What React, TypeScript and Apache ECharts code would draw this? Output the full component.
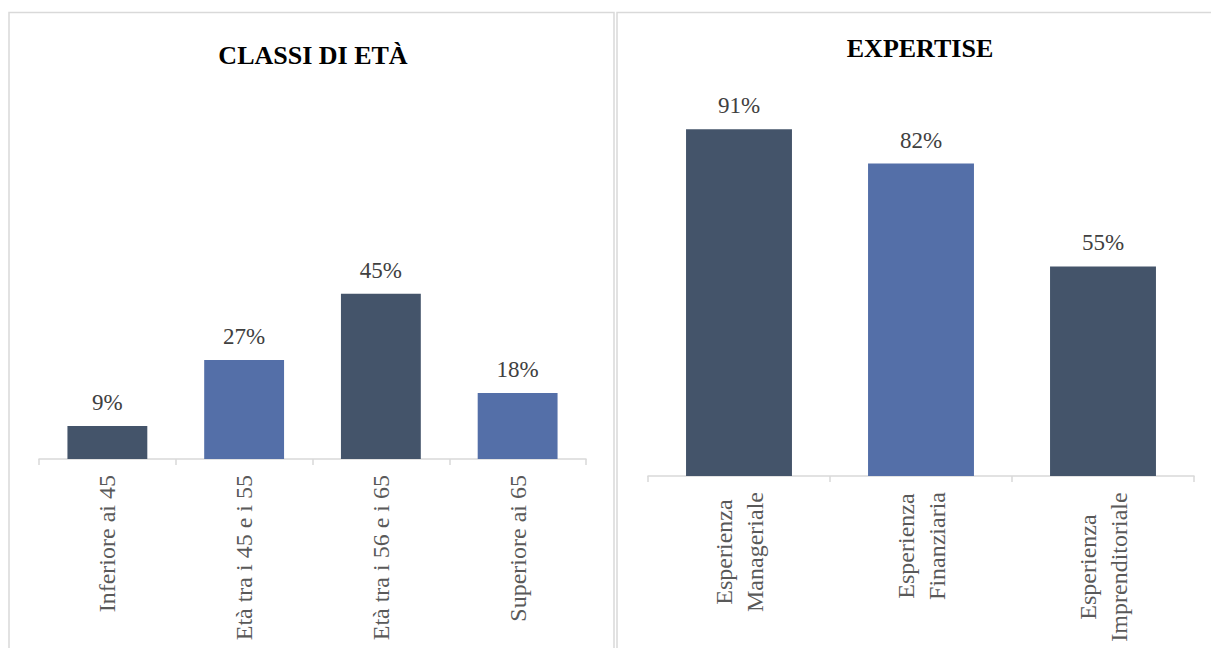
import React, { useEffect, useRef } from "react";
import * as echarts from "echarts";

const ageTitle = "CLASSI DI ETÀ";
const ageCategories = ["Inferiore ai 45", "Età tra i 45 e i 55", "Età tra i 56 e i 65", "Superiore ai 65"];
const ageValues = [9, 27, 45, 18];

const expTitle = "EXPERTISE";
const expCategories = ["Esperienza\nManageriale", "Esperienza\nFinanziaria", "Esperienza\nImprenditoriale"];
const expValues = [91, 82, 55];

const DARK = "#44546a";
const LIGHT = "#546fa8";
const FONT = "Liberation Serif";
const LABEL_SIZE = 24;
const VALUE_SIZE = 23;

function measure(text: string, size: number): number {
  const c = document.createElement("canvas");
  const ctx = c.getContext("2d");
  if (!ctx) return text.length * size * 0.45;
  ctx.font = `${size}px "Liberation Serif"`;
  return ctx.measureText(text).width;
}

export default function App() {
  const ref = useRef<HTMLDivElement>(null);
  useEffect(() => {
    if (!ref.current) return;
    const chart = echarts.init(ref.current, undefined, { renderer: "svg" });

    const expData = expCategories.map((c) => {
      const lines = c.split("\n");
      const w = Math.ceil(Math.max(...lines.map((l) => measure(l, LABEL_SIZE)))) + 2;
      return {
        value: c,
        textStyle: {
          rich: { a: { width: w, align: "center", fontSize: LABEL_SIZE, fontFamily: FONT, color: "#595959", lineHeight: 31 } },
        },
      };
    });

    const barColor = (i: number) => (i % 2 === 0 ? DARK : LIGHT);

    const valueLabel = {
      show: true,
      position: "top",
      distance: 12,
      formatter: "{c}%",
      fontFamily: FONT,
      fontSize: VALUE_SIZE,
      color: "#404040",
    };

    chart.setOption({
      animation: false,
      textStyle: { fontFamily: FONT },
      graphic: [
        { type: "rect", shape: { x: 9, y: 12.5, width: 605, height: 700 }, style: { fill: "none", stroke: "#d9d9d9", lineWidth: 1.5 }, silent: true },
        { type: "rect", shape: { x: 617, y: 12.5, width: 605, height: 700 }, style: { fill: "none", stroke: "#d9d9d9", lineWidth: 1.5 }, silent: true },
      ],
      title: [
        { text: ageTitle, left: 308, top: 37, textAlign: "center", textStyle: { fontFamily: FONT, fontSize: 26, fontWeight: "bold", color: "#000" } },
        { text: expTitle, left: 915, top: 30, textAlign: "center", textStyle: { fontFamily: FONT, fontSize: 26, fontWeight: "bold", color: "#000" } },
      ],
      grid: [
        { left: 39, width: 547, top: 92, height: 367, containLabel: false, outerBoundsMode: "none" },
        { left: 648, width: 546, top: 95, height: 381, containLabel: false, outerBoundsMode: "none" },
      ],
      xAxis: [
        {
          type: "category",
          gridIndex: 0,
          data: ageCategories,
          axisLine: { lineStyle: { color: "#d9d9d9", width: 1.5 } },
          axisTick: { show: true, length: 6, lineStyle: { color: "#d9d9d9", width: 1.5 } },
          axisLabel: { rotate: 90, margin: 16, interval: 0, fontFamily: FONT, fontSize: LABEL_SIZE, color: "#595959" },
        },
        {
          type: "category",
          gridIndex: 1,
          data: expData,
          axisLine: { lineStyle: { color: "#d9d9d9", width: 1.5 } },
          axisTick: { show: true, length: 6, lineStyle: { color: "#d9d9d9", width: 1.5 } },
          axisLabel: {
            rotate: 90,
            margin: 15,
            interval: 0,
            fontFamily: FONT,
            fontSize: LABEL_SIZE,
            color: "#595959",
            lineHeight: 31,
            formatter: (v: string) => v.split("\n").map((l) => `{a|${l}}`).join("\n"),
          },
        },
      ],
      yAxis: [
        { type: "value", gridIndex: 0, min: 0, max: 100, show: false },
        { type: "value", gridIndex: 1, min: 0, max: 100, show: false },
      ],
      series: [
        {
          type: "bar",
          xAxisIndex: 0,
          yAxisIndex: 0,
          barWidth: "58.4%",
          data: ageValues.map((v, i) => ({ value: v, itemStyle: { color: barColor(i) } })),
          label: valueLabel,
        },
        {
          type: "bar",
          xAxisIndex: 1,
          yAxisIndex: 1,
          barWidth: "58.2%",
          data: expValues.map((v, i) => ({ value: v, itemStyle: { color: barColor(i) } })),
          label: valueLabel,
        },
      ],
    });
    return () => chart.dispose();
  }, []);

  return <div ref={ref} style={{ position: "absolute", left: 0, top: 0, width: 1211, height: 648 }} />;
}
